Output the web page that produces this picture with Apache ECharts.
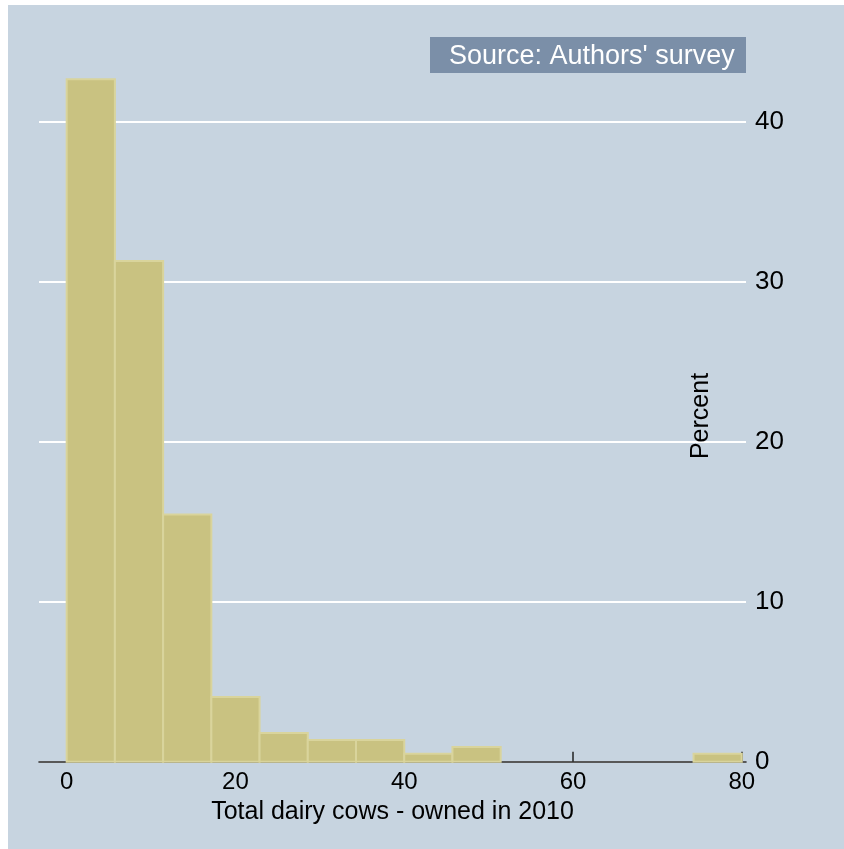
<!DOCTYPE html>
<html>
<head>
<meta charset="utf-8">
<script src="https://cdn.jsdelivr.net/npm/echarts@6/dist/echarts.min.js"></script>
<style>
  html, body { margin: 0; padding: 0; background: #ffffff; }
  #wrap { position: relative; width: 844px; height: 849px; background: #ffffff; overflow: hidden; }
  #chart { position: absolute; left: 8px; top: 5px; width: 836px; height: 844px; }
</style>
</head>
<body>
<div id="wrap"><div id="chart"></div></div>
<script>
// Histogram bins (start, end) of "Total dairy cows - owned in 2010"
var binStarts = [0, 5.714, 11.429, 17.143, 22.857, 28.571, 34.286, 40, 45.714, 51.429, 57.143, 62.857, 68.571, 74.286];
var binEnds   = [5.714, 11.429, 17.143, 22.857, 28.571, 34.286, 40, 45.714, 51.429, 57.143, 62.857, 68.571, 74.286, 80];
var percents  = [42.65, 31.3, 15.45, 4.05, 1.8, 1.35, 1.35, 0.5, 0.92, 0, 0, 0, 0, 0.5];
var xTicks = [0, 20, 40, 60, 80];
var xTitle = 'Total dairy cows - owned in 2010';
var yTitle = 'Percent';
var note = "Source: Authors' survey";

var FONT = '"Liberation Sans", Arial, sans-serif';
var data = binStarts.map(function (s, i) { return [s, binEnds[i], percents[i]]; });

var chart = echarts.init(document.getElementById('chart'), null, { renderer: 'canvas' });
chart.setOption({
  backgroundColor: '#c7d4e0',
  animation: false,
  grid: { left: 31, right: 98, top: 65.5, bottom: 87.3, containLabel: false },
  xAxis: {
    type: 'value',
    min: -3.28,
    max: 80.5,
    name: xTitle,
    nameLocation: 'middle',
    nameGap: 44,
    nameTextStyle: { fontFamily: FONT, fontSize: 25, color: '#000', verticalAlign: 'middle' },
    axisLine: { show: true, onZero: false, lineStyle: { color: '#222', width: 1.5 } },
    axisTick: { show: true, inside: true, length: 10, customValues: xTicks, lineStyle: { color: '#222', width: 1.5 } },
    axisLabel: { customValues: xTicks, fontFamily: FONT, fontSize: 24, color: '#000', margin: 9 },
    splitLine: { show: false }
  },
  yAxis: {
    type: 'value',
    position: 'right',
    min: 0,
    max: 43.2,
    interval: 10,
    axisLine: { show: false },
    axisTick: { show: false },
    axisLabel: { fontFamily: FONT, fontSize: 26, color: '#000', margin: 9, showMaxLabel: false },
    splitLine: { show: true, showMaxLine: false, lineStyle: { color: '#ffffff', width: 2 } }
  },
  graphic: [
    { type: 'rect', left: 422, top: 32, shape: { width: 316, height: 36 }, style: { fill: '#7b8fa8' }, z: 10 },
    { type: 'text', left: 441, top: 38, style: { text: note, fill: '#ffffff', font: '27px ' + FONT }, z: 11 },
    { type: 'text', x: 693, y: 411, rotation: Math.PI / 2,
      style: { text: yTitle, fill: '#000', font: '25px ' + FONT, align: 'center', verticalAlign: 'middle' }, z: 11 }
  ],
  series: [{
    type: 'custom',
    data: data,
    encode: { x: [0, 1], y: 2 },
    renderItem: function (params, api) {
      var v = api.value(2);
      if (!v) return null;
      var p0 = api.coord([api.value(0), v]);
      var p1 = api.coord([api.value(1), 0]);
      return {
        type: 'rect',
        shape: { x: p0[0], y: p0[1], width: p1[0] - p0[0], height: p1[1] - p0[1] },
        style: { fill: '#c9c281', stroke: '#d9d49c', lineWidth: 2 }
      };
    },
    z: 3
  }]
});
</script>
</body>
</html>
